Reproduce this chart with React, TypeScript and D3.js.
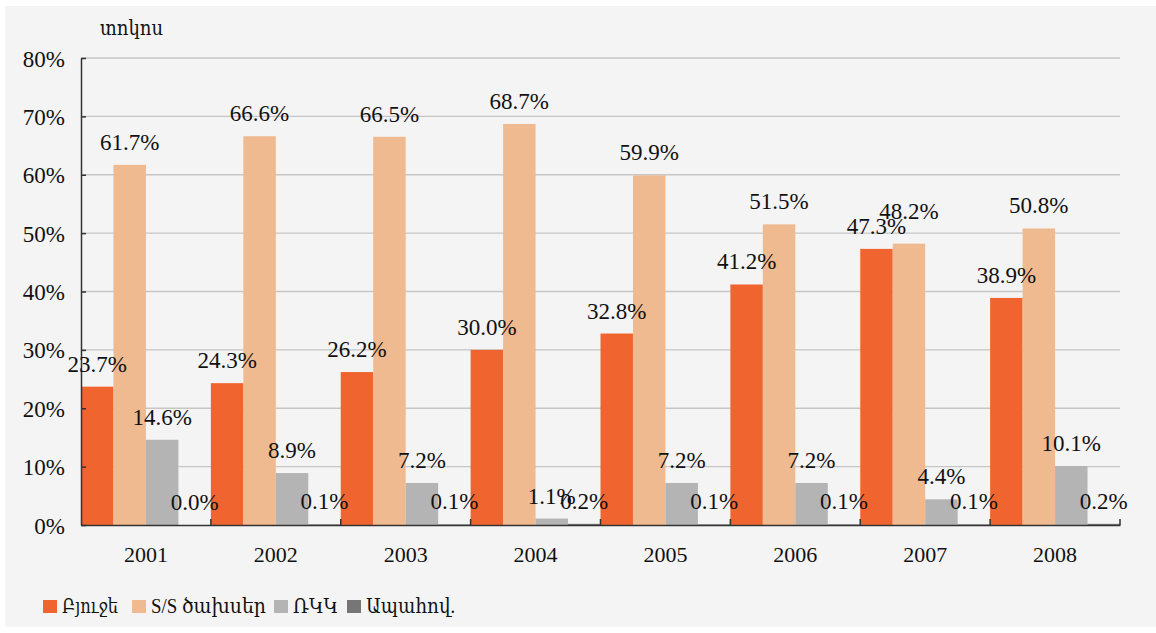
import React, { useEffect, useRef } from "react";
import * as d3 from "d3";

const years = ["2001", "2002", "2003", "2004", "2005", "2006", "2007", "2008"];
const seriesNames = ["Բյուջե", "S/S ծախսեր", "ՌԿԿ", "Ապահով."];
const budget = [23.7, 24.3, 26.2, 30.0, 32.8, 41.2, 47.3, 38.9];
const enterprises = [61.7, 66.6, 66.5, 68.7, 59.9, 51.5, 48.2, 50.8];
const rkk = [14.6, 8.9, 7.2, 1.1, 7.2, 7.2, 4.4, 10.1];
const insured = [0.0, 0.1, 0.1, 0.2, 0.1, 0.1, 0.1, 0.2];
const yTicks = [0, 10, 20, 30, 40, 50, 60, 70, 80];
const colors = ["#f0652f", "#efba8f", "#b4b4b4", "#767676"];

const W = 1156;
const H = 633;
const FONT = "'Liberation Serif', 'DejaVu Serif', serif";

export default function App() {
  const ref = useRef<SVGSVGElement>(null);

  useEffect(() => {
    const svg = d3.select(ref.current);
    svg.selectAll("*").remove();
    const series = [budget, enterprises, rkk, insured];

    const left = 81, right = 1120, top = 58, bottom = 525;

    svg.append("rect").attr("x", 5).attr("y", 6).attr("width", W - 5).attr("height", 621).attr("fill", "#f4f4f4");

    const x = d3.scaleBand().domain(years).range([left, right]).padding(0);
    const xs = d3.scaleBand().domain(seriesNames).range([0, x.bandwidth()]).padding(0);
    const y = d3.scaleLinear().domain([0, 80]).range([bottom, top]);

    // grid
    svg.append("g")
      .selectAll("line")
      .data(yTicks.slice(1))
      .enter()
      .append("line")
      .attr("x1", left).attr("x2", right)
      .attr("y1", (d) => y(d)).attr("y2", (d) => y(d))
      .attr("stroke", "#c6c6c6").attr("stroke-width", 1.3);

    // bars
    series.forEach((vals, si) => {
      svg.append("g")
        .selectAll("rect")
        .data(vals)
        .enter()
        .append("rect")
        .attr("x", (d, i) => (x(years[i]) as number) + (xs(seriesNames[si]) as number))
        .attr("width", xs.bandwidth())
        .attr("y", (d) => y(d))
        .attr("height", (d) => bottom - y(d))
        .attr("fill", colors[si]);
    });

    // axes
    const yAxis = svg.append("g").attr("transform", `translate(${left},0)`)
      .call(d3.axisLeft(y).tickValues(yTicks).tickSizeInner(-5).tickSizeOuter(0).tickFormat((d) => `${d}%`));
    yAxis.select(".domain").attr("stroke", "#333").attr("stroke-width", 1.5);
    yAxis.selectAll(".tick line").attr("stroke", "#333").attr("stroke-width", 1.5);
    yAxis.selectAll(".tick text").attr("x", -16).attr("dy", "0.35em")
      .attr("font-family", FONT).attr("font-size", 23).attr("fill", "#111");

    const xAxis = svg.append("g").attr("transform", `translate(0,${bottom})`)
      .call(d3.axisBottom(x).tickSize(0).tickSizeOuter(0));
    xAxis.select(".domain").attr("stroke", "#333").attr("stroke-width", 1.5);
    xAxis.selectAll(".tick text").attr("y", 37).attr("dy", 0)
      .attr("font-family", FONT).attr("font-size", 22).attr("fill", "#111");
    // category boundary ticks pointing up
    svg.append("g")
      .selectAll("line")
      .data(years)
      .enter()
      .append("line")
      .attr("x1", (d) => (x(d) as number) + x.bandwidth())
      .attr("x2", (d) => (x(d) as number) + x.bandwidth())
      .attr("y1", bottom).attr("y2", bottom - 6)
      .attr("stroke", "#333").attr("stroke-width", 1.5);

    // data labels
    series.forEach((vals, si) => {
      svg.append("g")
        .selectAll("text")
        .data(vals)
        .enter()
        .append("text")
        .attr("x", (d, i) => (x(years[i]) as number) + (xs(seriesNames[si]) as number) + xs.bandwidth() / 2)
        .attr("y", (d, i) => {
          let yy = y(d) - 15;
          if (si === 1) {
            const prev = y(budget[i]) - 15;
            if (Math.abs(prev - yy) < 20) yy = prev - 15;
          }
          return yy;
        })
        .attr("text-anchor", "middle")
        .attr("font-family", FONT).attr("font-size", 23).attr("fill", "#111")
        .text((d) => `${d.toFixed(1)}%`);
    });

    // title
    svg.append("text").attr("x", 100).attr("y", 35)
      .attr("font-family", FONT).attr("font-size", 21).attr("fill", "#111")
      .attr("textLength", 63).attr("lengthAdjust", "spacingAndGlyphs").text("տոկոս");

    // legend
    const legendX = [43, 132, 274, 347];
    const legendW = [56, 115, 45, 89];
    const lg = svg.append("g");
    seriesNames.forEach((name, i) => {
      lg.append("rect").attr("x", legendX[i]).attr("y", 600).attr("width", 14).attr("height", 13).attr("fill", colors[i]);
      lg.append("text").attr("x", legendX[i] + 19).attr("y", 613)
        .attr("font-family", FONT).attr("font-size", 20).attr("fill", "#111")
        .attr("textLength", legendW[i]).attr("lengthAdjust", "spacingAndGlyphs").text(name);
    });
  }, []);

  return (
    <svg ref={ref} width={W} height={H} style={{ position: "absolute", left: 0, top: 0, background: "#fff" }} />
  );
}
